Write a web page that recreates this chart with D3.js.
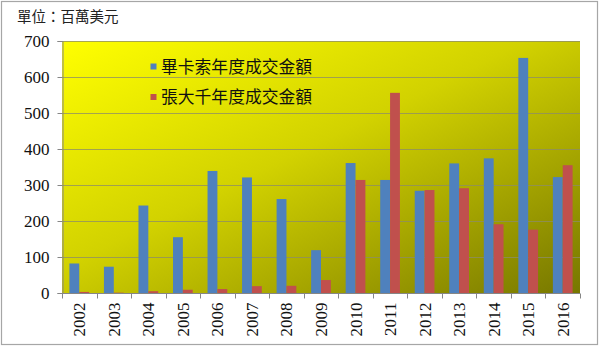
<!DOCTYPE html>
<html>
<head>
<meta charset="utf-8">
<script src="https://cdn.jsdelivr.net/npm/d3@7/dist/d3.min.js"></script>
<style>
  html, body { margin: 0; padding: 0; background: #fff; }
  svg { display: block; }
</style>
</head>
<body>
<svg id="chart" width="600" height="348"></svg>
<script>
// Annual auction turnover, millions of USD
const years = ["2002","2003","2004","2005","2006","2007","2008","2009","2010","2011","2012","2013","2014","2015","2016"];
const picasso = [82, 73, 243, 155, 339, 321, 261, 119, 361, 314, 284, 360, 374, 653, 322];
const zhang   = [3, 1, 5, 9, 11, 19, 20, 36, 314, 556, 286, 291, 191, 176, 355];
const seriesNames = ["畢卡索年度成交金額", "張大千年度成交金額"];
const seriesColors = ["#4f81bd", "#c0504d"];
const yTicks = [0, 100, 200, 300, 400, 500, 600, 700];
const unitLabel = "單位：百萬美元";

const svg = d3.select("#chart");
const W = 600, H = 348;
const plot = { left: 62, top: 41, right: 580, bottom: 293 };

// outer frame
svg.append("rect")
  .attr("x", 1.5).attr("y", 1.5).attr("width", W - 4).attr("height", H - 5)
  .attr("fill", "#fff").attr("stroke", "#a6a6a6").attr("stroke-width", 1.2);

// diagonal yellow-to-olive fill of the plot area
const defs = svg.append("defs");
const grad = defs.append("linearGradient").attr("id", "plotFill")
  .attr("x1", 0).attr("y1", 0).attr("x2", 1).attr("y2", 1);
grad.append("stop").attr("offset", "0%").attr("stop-color", "#ffff00");
grad.append("stop").attr("offset", "45%").attr("stop-color", "#d2d200");
grad.append("stop").attr("offset", "100%").attr("stop-color", "#777700");

const x = d3.scaleBand().domain(years).range([plot.left, plot.right]).padding(0);
const y = d3.scaleLinear().domain([0, 700]).range([plot.bottom, plot.top]);
const inner = d3.scaleBand().domain([0, 1]).range([0, x.bandwidth()])
  .paddingInner(0).paddingOuter(0.75);

svg.append("rect")
  .attr("x", plot.left).attr("y", plot.top)
  .attr("width", plot.right - plot.left).attr("height", plot.bottom - plot.top)
  .attr("fill", "url(#plotFill)");

// horizontal gridlines
svg.append("g").selectAll("line").data(yTicks.filter(d => d > 0)).join("line")
  .attr("x1", plot.left).attr("x2", plot.right)
  .attr("y1", d => Math.round(y(d)) + 0.5).attr("y2", d => Math.round(y(d)) + 0.5)
  .attr("stroke", "#8c8c6a").attr("stroke-width", 1).attr("opacity", 0.75);

// bars
const series = [picasso, zhang];
series.forEach((vals, si) => {
  svg.append("g").selectAll("rect").data(vals).join("rect")
    .attr("x", (d, i) => x(years[i]) + inner(si))
    .attr("width", inner.bandwidth())
    .attr("y", d => y(d))
    .attr("height", d => y(0) - y(d))
    .attr("fill", seriesColors[si]);
});

// y axis
const yAxis = svg.append("g")
  .attr("transform", `translate(${plot.left + 0.5},0)`)
  .call(d3.axisLeft(y).tickValues(yTicks).tickSize(5).tickPadding(8).tickFormat(d3.format("d")));
yAxis.select(".domain").attr("stroke", "#868686");
yAxis.selectAll(".tick line").attr("stroke", "#868686");
yAxis.selectAll("text")
  .attr("font-family", "'Liberation Serif', 'Times New Roman', serif")
  .attr("font-size", 17).attr("fill", "#111");

// x axis with ticks at category boundaries
const xAxis = svg.append("g")
  .attr("transform", `translate(0,${plot.bottom + 0.5})`);
xAxis.append("line")
  .attr("x1", plot.left).attr("x2", plot.right)
  .attr("stroke", "#868686");
const bounds = d3.range(years.length + 1).map(i => plot.left + i * x.bandwidth());
xAxis.selectAll("line.tk").data(bounds).join("line").attr("class", "tk")
  .attr("x1", d => Math.round(d) + 0.5).attr("x2", d => Math.round(d) + 0.5)
  .attr("y1", 0).attr("y2", 5).attr("stroke", "#868686");
xAxis.selectAll("text").data(years).join("text")
  .attr("transform", d => `translate(${x(d) + x.bandwidth() / 2 + 6},9) rotate(-90)`)
  .attr("text-anchor", "end")
  .attr("font-family", "'Liberation Serif', 'Times New Roman', serif")
  .attr("font-size", 17).attr("fill", "#111")
  .text(d => d);

// unit label
svg.append("text")
  .attr("x", 17).attr("y", 22)
  .attr("font-family", "'Noto Sans CJK TC', sans-serif")
  .attr("font-size", 14.5).attr("fill", "#222")
  .text(unitLabel);

// legend
const legend = svg.append("g");
seriesNames.forEach((name, i) => {
  const cy = 66.5 + i * 30.5;
  legend.append("rect")
    .attr("x", 150.5).attr("y", cy - 3)
    .attr("width", 6).attr("height", 6)
    .attr("fill", seriesColors[i]);
  legend.append("text")
    .attr("x", 161).attr("y", cy)
    .attr("dy", "0.36em")
    .attr("font-family", "'Noto Sans CJK TC', sans-serif")
    .attr("font-size", 16.8).attr("fill", "#111")
    .text(name);
});
</script>
</body>
</html>
